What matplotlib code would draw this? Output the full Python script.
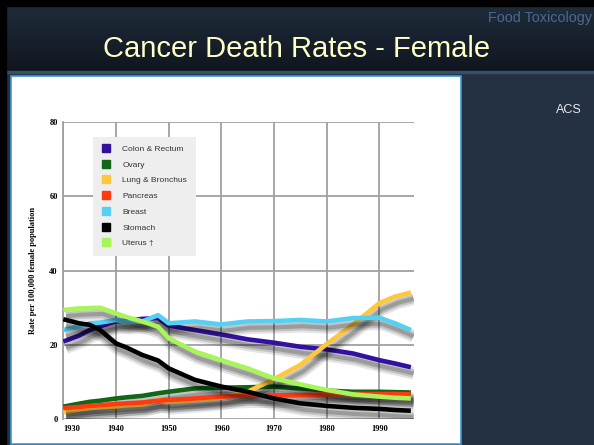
import numpy as np
import matplotlib
matplotlib.use("Agg")
import matplotlib.pyplot as plt
import matplotlib.patheffects as pe
from matplotlib.patches import Rectangle
from matplotlib.lines import Line2D

# data (rate per 100,000 female population)
years = [1930, 1933, 1935, 1937, 1940, 1942, 1945, 1948, 1950, 1955,
         1960, 1965, 1970, 1975, 1980, 1985, 1990, 1993, 1996]
colon = [20.9, 22.5, 24.0, 25.0, 26.3, 26.5, 27.0, 27.2, 25.2, 24.0,
         22.8, 21.5, 20.6, 19.5, 18.8, 17.7, 15.9, 15.0, 14.0]
ovary = [3.4, 4.2, 4.7, 5.0, 5.6, 5.9, 6.3, 7.0, 7.4, 8.3,
         8.5, 8.6, 8.8, 8.3, 7.7, 7.4, 7.4, 7.3, 7.2]
lung = [1.9, 2.6, 3.0, 3.2, 3.4, 3.7, 4.0, 5.2, 4.6, 5.2,
        5.8, 7.4, 10.8, 14.6, 20.2, 25.4, 31.2, 33.0, 34.1]
pancreas = [3.0, 3.3, 3.6, 3.8, 4.1, 4.3, 4.5, 5.0, 5.2, 5.6,
            6.1, 6.4, 6.4, 6.5, 6.7, 6.8, 6.8, 6.8, 6.7]
breast = [24.0, 25.0, 25.8, 26.0, 26.7, 26.2, 26.3, 28.0, 25.8, 26.3,
          25.5, 26.3, 26.4, 26.7, 26.3, 27.2, 27.3, 25.8, 24.0]
stomach = [26.9, 25.8, 25.4, 24.0, 20.4, 19.3, 17.3, 15.8, 13.7, 10.6,
           8.8, 7.4, 5.6, 4.3, 3.6, 3.1, 2.8, 2.5, 2.3]
uterus = [29.4, 29.8, 29.9, 30.0, 28.5, 27.5, 26.3, 24.9, 21.8, 18.2,
          15.9, 13.7, 11.0, 9.4, 7.9, 6.7, 6.1, 5.8, 5.6]

names = ["Colon & Rectum", "Ovary", "Lung & Bronchus", "Pancreas",
         "Breast", "Stomach", "Uterus \u2020"]
colors = ["#3311a0", "#116618", "#ffc83a", "#ff3a10", "#55d0f5", "#000000", "#a8f55a"]
series = [colon, ovary, lung, pancreas, breast, stomach, uterus]
xticks = [1930, 1940, 1950, 1960, 1970, 1980, 1990]
yticks = [0, 20, 40, 60, 80]

W, H = 594, 445
fig = plt.figure(figsize=(W / 100, H / 100), dpi=100)

# slide background
bg = fig.add_axes([0, 0, 1, 1])
bg.set_xlim(0, W)
bg.set_ylim(H, 0)
bg.axis("off")
bg.add_patch(Rectangle((0, 0), W, H, color="#233142", zorder=0))
grad = np.linspace(0, 1, 64).reshape(-1, 1)
bg.imshow(grad, extent=[0, W, 72, 5], aspect="auto", zorder=1,
          cmap=matplotlib.colors.LinearSegmentedColormap.from_list("h", ["#1f2c3c", "#10161f"]))
bg.add_patch(Rectangle((0, 71), W, 2, color="#34506c", zorder=2))
bg.add_patch(Rectangle((0, 0), W, 5.5, color="#000000", zorder=3))
bg.add_patch(Rectangle((0, 0), 6, H, color="#000000", zorder=3))
bg.add_patch(Rectangle((10.5, 75.5), 450, 368.5, facecolor="white",
                       edgecolor="#3a9ad9", lw=1.2, zorder=3))
bg.text(297, 49, "Cancer Death Rates - Female", color="#ffffc8", fontsize=21,
        family="Liberation Sans", ha="center", va="center", zorder=4)
bg.text(592, 18, "Food Toxicology", color="#4b6a8c", fontsize=10.4,
        family="Liberation Sans", ha="right", va="center", zorder=4)
bg.text(569, 110, "ACS", color="#e8e8e8", fontsize=9,
        family="Liberation Sans", ha="center", va="center", zorder=4)

# chart
left, right, top, bottom = 63.3, 414, 121.7, 419.3
ax = fig.add_axes([left / W, 1 - bottom / H, (right - left) / W, (bottom - top) / H])
ax.set_facecolor("none")
ax.set_xlim(1930.3, 1996.6)
ax.set_ylim(0, 80)

for vals, c in zip(series, colors):
    ax.plot(years, vals, color=c, lw=3.3, solid_capstyle="butt", zorder=3,
            path_effects=[pe.SimpleLineShadow(offset=(2, -4.5), shadow_color="k", alpha=0.10, linewidth=9),
                          pe.SimpleLineShadow(offset=(2, -4.5), shadow_color="k", alpha=0.15, linewidth=6),
                          pe.SimpleLineShadow(offset=(2, -4.5), shadow_color="k", alpha=0.2, linewidth=3),
                          pe.Normal()])

ax.set_xticks(xticks)
ax.set_yticks(yticks)
ax.grid(True, color="#a0a0a0", lw=1.3)
ax.tick_params(length=0, labelsize=6, pad=4)
for lab in ax.get_xticklabels() + ax.get_yticklabels():
    lab.set_family("Liberation Serif")
    lab.set_fontweight("bold")
ax.get_xticklabels()[0].set_horizontalalignment("left")
for s in ["top", "right", "bottom"]:
    ax.spines[s].set_visible(False)
ax.spines["left"].set_color("#a0a0a0")
ax.spines["left"].set_linewidth(1.3)
ax.set_ylabel("Rate per 100,000 female population", family="Liberation Serif",
              fontweight="bold", fontsize=6, labelpad=9)

handles = [Line2D([], [], ls="none", marker="s", markersize=6, color=c) for c in colors]
leg = ax.legend(handles, names, loc="upper left", bbox_to_anchor=(93.3 / W, 1 - 136.7 / H),
                bbox_transform=fig.transFigure, frameon=True, fancybox=False,
                facecolor="#eeeeee", edgecolor="#eeeeee", framealpha=1,
                prop={"family": "Liberation Sans", "size": 6}, labelspacing=0.95,
                handlelength=1, handletextpad=1.5, borderpad=1.0, borderaxespad=0)
leg.get_frame().set_linewidth(0)
for t in leg.get_texts():
    t.set_color("#333333")

fig.savefig("out.png", dpi=100)
